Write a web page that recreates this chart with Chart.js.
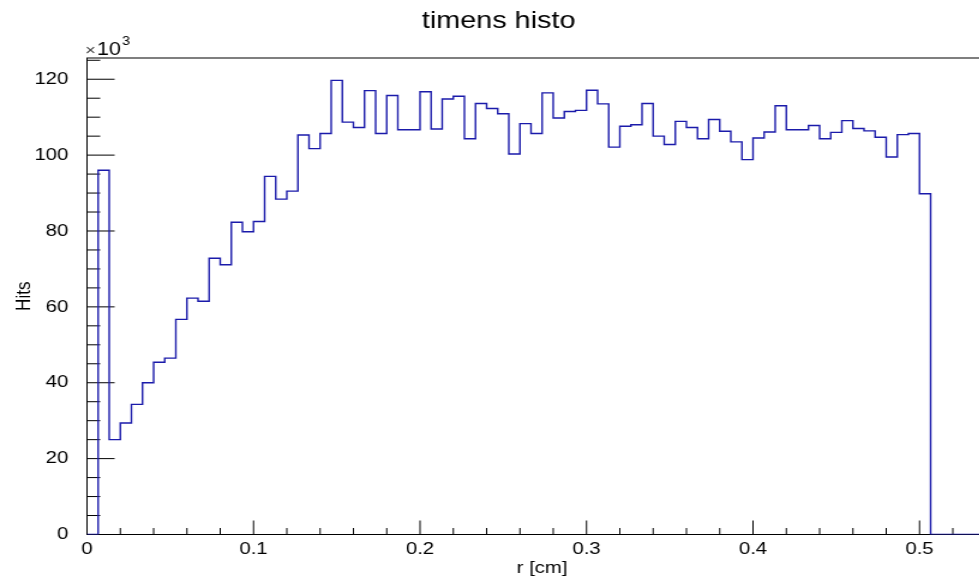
<!DOCTYPE html>
<html>
<head>
<meta charset="utf-8">
<title>timens histo</title>
<script src="https://cdn.jsdelivr.net/npm/chart.js@4/dist/chart.umd.min.js"></script>
<style>
  html, body { margin: 0; padding: 0; background: #fff; overflow: hidden; }
  /* the canvas is drawn narrow and widened, like the exported ROOT canvas */
  #wrap { width: 898px; height: 580px; transform: scaleX(1.2); transform-origin: 0 0; }
</style>
</head>
<body>
<div id="wrap"><canvas id="histo"></canvas></div>
<script>
// r histogram: 82 bins of 1/150 cm, contents in units of 10^3 hits
const binCount = 82;
const rMin = 0;
const rMax = 82 / 150;
const hits = [
    0, 96.0, 25.0, 29.4, 34.3, 40.0, 45.4, 46.5, 56.7, 62.3,
    61.5, 72.8, 71.1, 82.3, 79.8, 82.5, 94.4, 88.4, 90.5, 105.3,
    101.7, 105.7, 119.7, 108.7, 107.3, 117.0, 105.7, 115.7, 106.7, 106.7,
    116.7, 106.9, 114.8, 115.5, 104.3, 113.6, 112.3, 110.9, 100.3, 108.3,
    105.7, 116.4, 109.8, 111.5, 111.8, 117.1, 113.5, 102.1, 107.6, 108.0,
    113.6, 105.0, 102.8, 108.9, 107.3, 104.3, 109.4, 106.3, 103.5, 98.8,
    104.5, 106.1, 113.0, 106.7, 106.7, 107.8, 104.3, 106.0, 109.1, 107.0,
    106.4, 104.7, 99.5, 105.4, 105.7, 89.8, 0, 0, 0, 0,
    0, 0
];
const xTicks = [0, 0.1, 0.2, 0.3, 0.4, 0.5];
const yTicks = [0, 20, 40, 60, 80, 100, 120];
const yMax = 125.6;
const xMinorStep = 0.02;
const yMinorStep = 5;

const fontFamily = "'Liberation Sans', Arial, Helvetica, sans-serif";
const lineColor = '#1a1aaa';

// step outline: each point holds its value until the next bin edge
const binWidth = (rMax - rMin) / binCount;
const outline = hits.map((h, i) => ({ x: rMin + i * binWidth, y: h }));
outline.push({ x: rMax, y: hits[binCount - 1] });

// ROOT-like frame with inward major/minor ticks and the x10^3 exponent
const rootFrame = {
    id: 'rootFrame',
    beforeDatasetsDraw(chart) {
        const { ctx, chartArea: a, scales: { x, y } } = chart;
        ctx.save();
        ctx.strokeStyle = '#000';
        ctx.lineWidth = 1;
        ctx.strokeRect(a.left, a.top, a.right - a.left, a.bottom - a.top);
        ctx.beginPath();
        for (let i = 0; i * xMinorStep <= rMax + 1e-9; i++) {
            const px = x.getPixelForValue(i * xMinorStep);
            const len = i % 5 === 0 ? 14 : 6.5;
            ctx.moveTo(px, a.bottom);
            ctx.lineTo(px, a.bottom - len);
        }
        for (let i = 0; i * yMinorStep <= yMax; i++) {
            const py = y.getPixelForValue(i * yMinorStep);
            const len = i % 4 === 0 ? 23 : 11;
            ctx.moveTo(a.left, py);
            ctx.lineTo(a.left + len, py);
        }
        ctx.stroke();
        ctx.restore();
    },
    afterDraw(chart) {
        const { ctx, chartArea: a } = chart;
        ctx.save();
        ctx.textBaseline = 'alphabetic';
        ctx.textAlign = 'left';
        ctx.fillStyle = '#444';
        ctx.font = '15px ' + fontFamily;
        ctx.fillText('\u00d7', a.left - 1.5, a.top - 3);
        const wx = ctx.measureText('\u00d7').width;
        ctx.fillStyle = '#000';
        ctx.font = '18px ' + fontFamily;
        ctx.fillText('10', a.left - 1.5 + wx + 1, a.top - 3);
        const w10 = ctx.measureText('10').width;
        ctx.font = '12px ' + fontFamily;
        ctx.fillText('3', a.left - 1.5 + wx + 1 + w10 + 1, a.top - 13);
        ctx.restore();
    }
};

const ctx = document.getElementById('histo').getContext('2d');

new Chart(ctx, {
    type: 'line',
    data: {
        datasets: [{
            label: 'timens',
            data: outline,
            stepped: true,
            borderColor: lineColor,
            borderWidth: 1.4,
            pointRadius: 0,
            fill: false
        }]
    },
    options: {
        responsive: true,
        maintainAspectRatio: false,
        animation: false,
        devicePixelRatio: 1,
        layout: {
            padding: { left: 0, right: 67, top: 0, bottom: 0 }
        },
        plugins: {
            legend: { display: false },
            tooltip: { enabled: false },
            title: {
                display: true,
                text: 'timens histo',
                color: '#000',
                font: { family: fontFamily, size: 24, weight: 'normal' },
                padding: { top: 7, bottom: 22.2 }
            }
        },
        scales: {
            x: {
                type: 'linear',
                min: rMin,
                max: rMax,
                afterBuildTicks: s => { s.ticks = xTicks.map(v => ({ value: v })); },
                afterFit: s => { s.height = 45.5; },
                grid: { display: false },
                border: { display: false },
                ticks: {
                    color: '#000',
                    font: { family: fontFamily, size: 17 },
                    padding: -3,
                    maxRotation: 0,
                    autoSkip: false,
                    callback: v => String(Math.round(v * 10) / 10)
                },
                title: {
                    display: true,
                    text: 'r [cm]',
                    color: '#000',
                    font: { family: fontFamily, size: 17 },
                    padding: { top: 0, bottom: 1 }
                }
            },
            y: {
                type: 'linear',
                min: 0,
                max: yMax,
                afterBuildTicks: s => { s.ticks = yTicks.map(v => ({ value: v })); },
                afterFit: s => { s.width = 72.5; },
                grid: { display: false },
                border: { display: false },
                ticks: {
                    color: '#000',
                    font: { family: fontFamily, size: 17 },
                    padding: 7.5
                },
                title: {
                    display: true,
                    text: 'Hits',
                    color: '#000',
                    font: { family: fontFamily, size: 17 },
                    padding: { top: 10.2, bottom: 0 }
                }
            }
        }
    },
    plugins: [rootFrame]
});
</script>
</body>
</html>
